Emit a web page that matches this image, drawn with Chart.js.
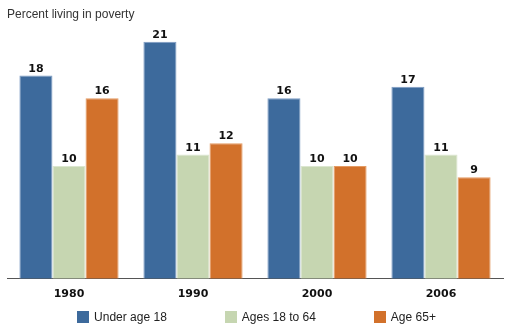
<!DOCTYPE html>
<html>
<head>
<meta charset="utf-8">
<style>
  html, body { margin: 0; padding: 0; background: #fff; }
  #wrap { width: 509px; height: 329px; }
</style>
<script src="https://cdn.jsdelivr.net/npm/chart.js@4/dist/chart.umd.min.js"></script>
</head>
<body>
<div id="wrap"><canvas id="c" width="509" height="329"></canvas></div>
<script>
// Poverty rates by age group, selected years
const years = ['1980', '1990', '2000', '2006'];
const under18 = [18, 21, 16, 17];
const ages18to64 = [10, 11, 10, 11];
const age65plus = [16, 12, 10, 9];
const seriesNames = ['Under age 18', 'Ages 18 to 64', 'Age 65+'];

const fill = ['#3d6a9c', '#c6d6b1', '#d2712b'];
const edge = ['#7d9cc4', '#dbe6cf', '#e49a62'];

// Value labels drawn above each bar
const valueLabels = {
  id: 'valueLabels',
  afterDatasetsDraw(chart) {
    const ctx = chart.ctx;
    ctx.save();
    ctx.font = 'bold 11px "DejaVu Sans"';
    ctx.fillStyle = '#111';
    ctx.textAlign = 'center';
    ctx.textBaseline = 'alphabetic';
    chart.data.datasets.forEach((ds, i) => {
      chart.getDatasetMeta(i).data.forEach((bar, j) => {
        ctx.fillText(String(ds.data[j]), bar.x, bar.y - 4);
      });
    });
    ctx.restore();
  }
};

// One-row legend centred under the plot, square swatches
const bottomLegend = {
  id: 'bottomLegend',
  afterDraw(chart) {
    const ctx = chart.ctx;
    const box = 12, textGap = 5, itemGap = 58;
    ctx.save();
    ctx.font = '12px "Liberation Sans"';
    const widths = seriesNames.map(t => box + textGap + ctx.measureText(t).width);
    const total = widths.reduce((a, b) => a + b, 0) + itemGap * (widths.length - 1);
    let x = (chart.width - total) / 2 + 2;
    const yMid = 317;
    ctx.textBaseline = 'middle';
    ctx.textAlign = 'left';
    seriesNames.forEach((t, i) => {
      ctx.fillStyle = fill[i];
      ctx.fillRect(Math.round(x), yMid - box / 2, box, box);
      ctx.fillStyle = '#222';
      ctx.fillText(t, x + box + textGap, yMid + 1);
      x += widths[i] + itemGap;
    });
    ctx.restore();
  }
};

new Chart(document.getElementById('c'), {
  type: 'bar',
  data: {
    labels: years,
    datasets: [under18, ages18to64, age65plus].map((d, i) => ({
      label: seriesNames[i],
      data: d,
      backgroundColor: fill[i],
      borderColor: edge[i],
      borderWidth: 1,
      borderSkipped: 'bottom',
      categoryPercentage: 0.8,
      barPercentage: 1.0
    }))
  },
  options: {
    responsive: false,
    animation: false,
    layout: { padding: { left: 7, right: 6, top: 4, bottom: 19 } },
    plugins: {
      title: {
        display: true,
        text: 'Percent living in poverty',
        align: 'start',
        color: '#333',
        font: { family: '"Liberation Sans"', size: 12, weight: 'normal' },
        padding: { top: 3, bottom: 9 }
      },
      legend: { display: false },
      tooltip: { enabled: false }
    },
    scales: {
      x: {
        grid: { display: false, drawTicks: false },
        border: { display: true, color: '#555', width: 1 },
        ticks: {
          color: '#111',
          padding: 9,
          font: { family: '"DejaVu Sans"', size: 11, weight: 'bold' }
        }
      },
      y: {
        display: false,
        min: 0,
        max: 22
      }
    }
  },
  plugins: [valueLabels, bottomLegend]
});
</script>
</body>
</html>
